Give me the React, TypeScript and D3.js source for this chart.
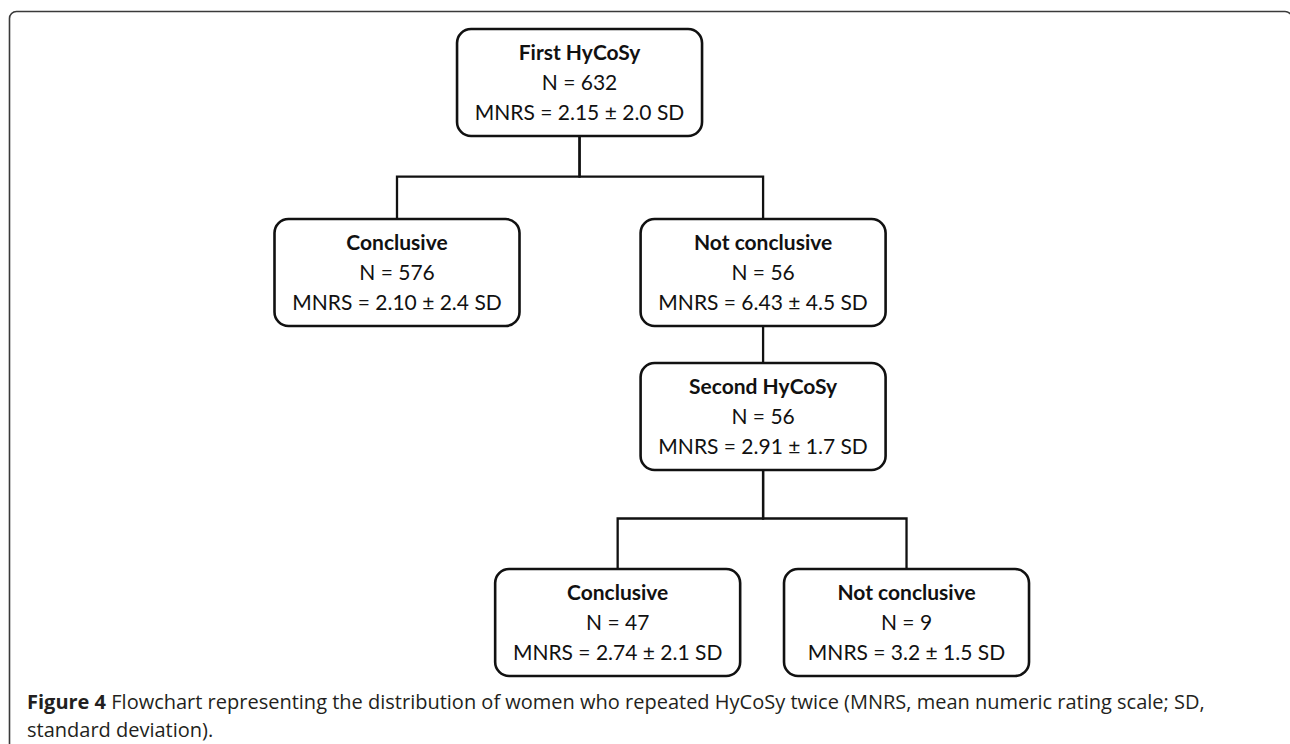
import { useEffect, useRef } from 'react';
import { select, scaleLinear, scaleOrdinal, stratify } from 'd3';

// flowchart nodes
const nodeIds = ['first', 'conc1', 'notconc1', 'second', 'conc2', 'notconc2'];
const nodeParents = ['', 'first', 'first', 'notconc1', 'second', 'second'];
const nodeTitles = ['First HyCoSy', 'Conclusive', 'Not conclusive', 'Second HyCoSy', 'Conclusive', 'Not conclusive'];
const nodeN = [632, 576, 56, 56, 47, 9];
const nodeMean = ['2.15', '2.10', '6.43', '2.91', '2.74', '3.2'];
const nodeSD = ['2.0', '2.4', '4.5', '1.7', '2.1', '1.5'];

const captionBold = 'Figure 4';
const captionLines = [
  ' Flowchart representing the distribution of women who repeated HyCoSy twice (MNRS, mean numeric rating scale; SD,',
  'standard deviation).',
];

// layout (grid units, not data)
const nodeCol = [1.82, 0, 3.65, 3.65, 2.2, 5.08];
const nodeRow = [0, 1, 1, 2, 3, 3];

export default function App() {
  const svgRef = useRef<SVGSVGElement>(null);

  useEffect(() => {
    const width = 1290;
    const height = 744;
    const boxW = 245;
    const boxH = 107;

    const svg = select(svgRef.current);
    svg.selectAll('*').remove();
    svg.attr('width', width).attr('height', height);

    const x = scaleLinear().domain([0, 1]).range([397, 497.3]);
    const y = scaleOrdinal<number, number>().domain([0, 1, 2, 3]).range([29, 219, 363, 569]);

    const table = nodeIds.map((id, i) => ({
      id,
      parent: nodeParents[i] || null,
      title: nodeTitles[i],
      n: nodeN[i],
      mean: nodeMean[i],
      sd: nodeSD[i],
      cx: x(nodeCol[i]),
      top: y(nodeRow[i]),
    }));

    const root = stratify<(typeof table)[number]>()
      .id((d) => d.id)
      .parentId((d) => d.parent)(table);

    // outer frame (right side falls just off the page)
    svg
      .append('rect')
      .attr('x', 9.5)
      .attr('y', 11.5)
      .attr('width', 1282.5)
      .attr('height', 800)
      .attr('rx', 7)
      .attr('fill', 'none')
      .attr('stroke', '#3a3a3a')
      .attr('stroke-width', 1.6);

    // connectors (elbow when a node splits)
    const g = svg.append('g');
    root.links().forEach((l) => {
      const s = l.source.data;
      const t = l.target.data;
      const sy = s.top + boxH;
      const split = l.source.children!.length > 1;
      const midY = sy + (t.top - sy) * 0.49;
      const d = split ? `M${s.cx},${sy}V${midY}H${t.cx}V${t.top}` : `M${s.cx},${sy}V${t.top}`;
      g.append('path')
        .attr('d', d)
        .attr('fill', 'none')
        .attr('stroke', '#111')
        .attr('stroke-width', 2.3);
    });

    const nodes = svg
      .selectAll('g.node')
      .data(root.descendants())
      .enter()
      .append('g')
      .attr('class', 'node')
      .attr('transform', (d) => `translate(${d.data.cx - boxW / 2}, ${d.data.top})`);

    nodes
      .append('rect')
      .attr('width', boxW)
      .attr('height', boxH)
      .attr('rx', 14)
      .attr('fill', '#fff')
      .attr('stroke', '#111')
      .attr('stroke-width', 2.6);

    const txt = nodes
      .append('text')
      .attr('text-anchor', 'middle')
      .attr('font-family', 'Lato, "Open Sans", sans-serif')
      .attr('font-size', 21)
      .attr('fill', '#111');

    txt
      .append('tspan')
      .attr('x', boxW / 2)
      .attr('y', 31)
      .attr('font-weight', 'bold')
      .text((d) => d.data.title);
    txt
      .append('tspan')
      .attr('x', boxW / 2)
      .attr('y', 61)
      .text((d) => `N = ${d.data.n}`);
    txt
      .append('tspan')
      .attr('x', boxW / 2)
      .attr('y', 90.5)
      .text((d) => `MNRS = ${d.data.mean} ± ${d.data.sd} SD`);

    // caption
    const cap = svg
      .append('text')
      .attr('font-family', '"Open Sans", "Noto Sans", sans-serif')
      .attr('font-size', 20)
      .attr('font-weight', 500)
      .attr('fill', '#231f20');
    const l1 = cap.append('tspan').attr('x', 27).attr('y', 709);
    l1.append('tspan').attr('font-weight', 'bold').text(captionBold);
    l1.append('tspan').text(captionLines[0]);
    cap.append('tspan').attr('x', 27).attr('y', 737).text(captionLines[1]);
  }, []);

  return (
    <div style={{ position: 'absolute', left: 0, top: 0 }}>
      <svg ref={svgRef}></svg>
    </div>
  );
}
